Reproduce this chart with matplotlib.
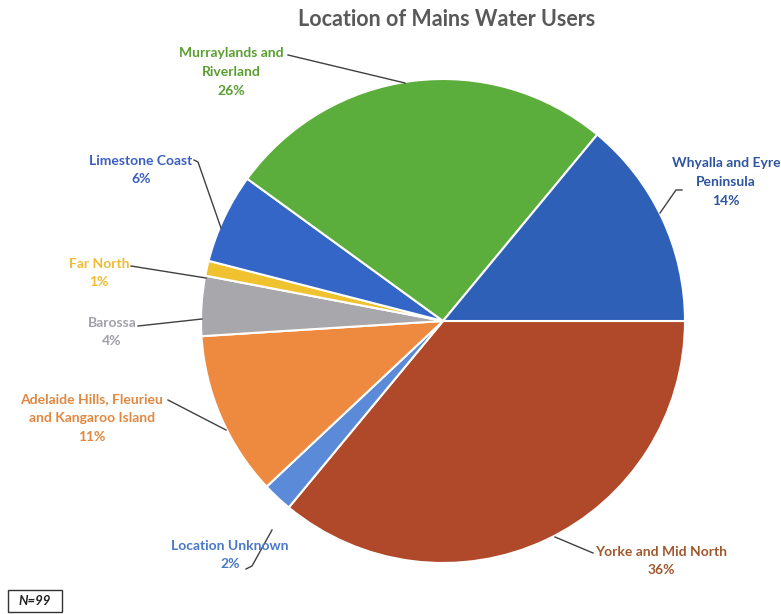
import matplotlib
matplotlib.use("Agg")
import matplotlib.pyplot as plt
from matplotlib.patches import Rectangle

# datos (en sentido horario desde las 3 en punto)
regiones = ["Yorke and Mid North", "Location Unknown",
            "Adelaide Hills, Fleurieu\nand Kangaroo Island", "Barossa", "Far North",
            "Limestone Coast", "Murraylands and\nRiverland", "Whyalla and Eyre\nPeninsula"]
porcentajes = [36, 2, 11, 4, 1, 6, 26, 14]
colores = ["#b0482a", "#5b8ad8", "#ee8a40", "#a8a8ac", "#f0c230",
           "#3466c8", "#5cae3c", "#2f60b8"]
colores_texto = ["#a0582e", "#4a78c8", "#e08840", "#a0a0a8", "#eebb33",
                 "#3b5fbf", "#5a9e32", "#2d55a0"]

# posiciones de las etiquetas (px) y de las líneas guía
H = 614
pos_texto = [(661, 561), (230, 555), (92, 418), (112, 332), (99, 273),
             (141, 170), (231, 72), (726, 182)]
guias = [[(593, 553), (555, 537)],
         [(246, 569), (252, 566), (272, 530)],
         [(168, 400), (226, 430)],
         [(138, 326), (202, 319)],
         [(131, 266), (206, 278)],
         [(194, 160), (198, 162), (221, 228)],
         [(288, 55), (405, 83)],
         [(682, 190), (676, 190), (660, 213)]]

plt.rcParams["font.family"] = ["Lato", "DejaVu Sans"]
fig = plt.figure(figsize=(7.81, 6.14), dpi=100)
ax = fig.add_axes([0, 0, 1, 1])

ax.pie(porcentajes, colors=colores, startangle=0, counterclock=False,
       center=(443, H - 321), radius=242, frame=True,
       wedgeprops=dict(edgecolor="white", linewidth=1.5))
ax.set_xlim(0, 781)
ax.set_ylim(0, H)
ax.set_aspect("equal")
ax.axis("off")

for nombre, pct, (x, y), c, g in zip(regiones, porcentajes, pos_texto, colores_texto, guias):
    ax.text(x, H - y, f"{nombre}\n{pct}%", ha="center", va="center",
            fontsize=10, fontweight="bold", color=c, linespacing=1.68)
    ax.plot([p[0] for p in g], [H - p[1] for p in g], color="#404040", lw=1)

ax.text(447, H - 19, "Location of Mains Water Users", ha="center", va="center",
        fontsize=15.5, fontweight="bold", color="#595959")

ax.add_patch(Rectangle((8, H - 612), 54, 22, fill=False, edgecolor="#333333", lw=1))
ax.text(35, H - 601, "N=99", ha="center", va="center", fontsize=9.5,
        fontweight="bold", fontstyle="italic", color="#222222")

fig.savefig("out.png", dpi=100)
